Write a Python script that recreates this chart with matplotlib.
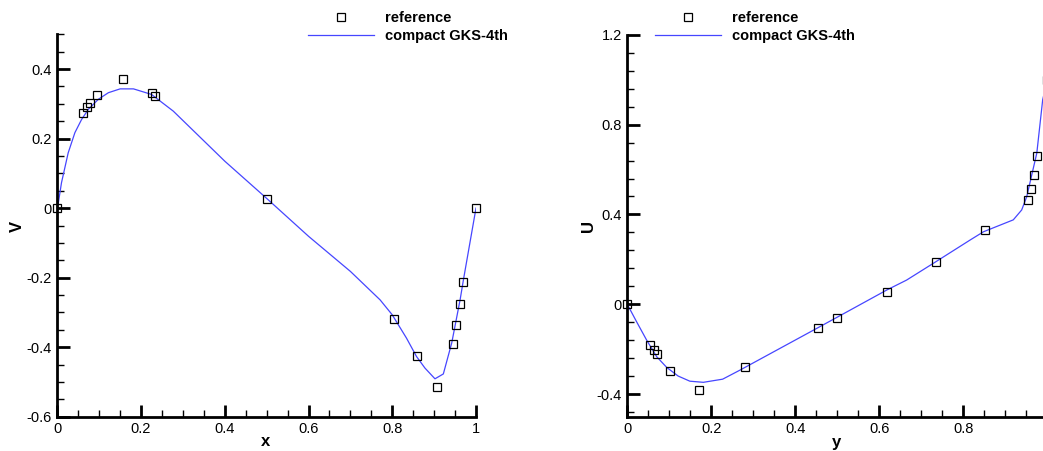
import matplotlib
matplotlib.use('Agg')
import matplotlib.pyplot as plt
from matplotlib.ticker import MultipleLocator, FuncFormatter
from matplotlib.lines import Line2D

plt.rcParams['font.family'] = ['Liberation Sans', 'DejaVu Sans']
plt.rcParams['axes.unicode_minus'] = False

# reference data, v along horizontal centre line
ref_x = [0.0, 0.0625, 0.0703, 0.0781, 0.0938, 0.1563, 0.2266, 0.2344, 0.5,
         0.8047, 0.8594, 0.9063, 0.9453, 0.9531, 0.9609, 0.9688, 1.0]
ref_v = [0.0, 0.2749, 0.2901, 0.3035, 0.3263, 0.3710, 0.3308, 0.3224, 0.0253,
         -0.3197, -0.4267, -0.5155, -0.3919, -0.3371, -0.2767, -0.2139, 0.0]

# compact GKS-4th, v
gks_x = [0.0, 0.0025, 0.010, 0.026, 0.042, 0.058, 0.074, 0.098, 0.122, 0.150,
         0.182, 0.225, 0.277, 0.4, 0.5, 0.6, 0.7, 0.771, 0.80, 0.834, 0.858,
         0.878, 0.902, 0.922, 0.942, 0.962, 0.970, 1.0]
gks_v = [0.0, 0.015, 0.073, 0.159, 0.217, 0.255, 0.284, 0.313, 0.332, 0.343,
         0.343, 0.327, 0.279, 0.135, 0.028, -0.081, -0.182, -0.264, -0.307,
         -0.374, -0.427, -0.460, -0.491, -0.477, -0.388, -0.264, -0.206, 0.0]

# reference data, u along vertical centre line
ref_y = [0.0, 0.0547, 0.0625, 0.0703, 0.1016, 0.1719, 0.2813, 0.4531, 0.5,
         0.6172, 0.7344, 0.8516, 0.9531, 0.9609, 0.9688, 0.9766, 1.0]
ref_u = [0.0, -0.1811, -0.2020, -0.2222, -0.2973, -0.3829, -0.2781, -0.1065,
         -0.0608, 0.0570, 0.1872, 0.3330, 0.4660, 0.5112, 0.5749, 0.6593, 1.0]

# compact GKS-4th, u
gks_y = [0.0, 0.022, 0.046, 0.070, 0.094, 0.121, 0.149, 0.181, 0.227, 0.268,
         0.451, 0.499, 0.618, 0.665, 0.729, 0.816, 0.848, 0.919, 0.939, 0.951,
         0.975, 0.989, 1.0]
gks_u = [0.0, -0.077, -0.159, -0.233, -0.281, -0.319, -0.342, -0.347, -0.333,
         -0.293, -0.107, -0.058, 0.064, 0.108, 0.183, 0.286, 0.323, 0.376,
         0.420, 0.479, 0.673, 0.910, 1.0]

line_color = '#4646ff'
W, H = 1043, 451
fig = plt.figure(figsize=(10.43, 4.51), dpi=100)

def style(ax, ymaj, ymin, xmax_label=1.0):
    for s in ['top', 'right']:
        ax.spines[s].set_visible(False)
    for s in ['left', 'bottom']:
        ax.spines[s].set_linewidth(2.0)
    ax.xaxis.set_major_locator(MultipleLocator(0.2))
    ax.xaxis.set_minor_locator(MultipleLocator(0.05))
    ax.yaxis.set_major_locator(MultipleLocator(ymaj))
    ax.yaxis.set_minor_locator(MultipleLocator(ymin))
    fmt = FuncFormatter(lambda v, p: '%g' % round(v, 3))
    xfmt = FuncFormatter(lambda v, p: '%g' % round(v, 3) if v <= xmax_label + 1e-9 else '')
    ax.xaxis.set_major_formatter(xfmt)
    ax.yaxis.set_major_formatter(fmt)
    ax.tick_params(which='major', direction='in', length=9, width=2,
                   labelsize=10.5, pad=4)
    ax.tick_params(which='minor', direction='in', length=5, width=1)

def legend(ax, x0):
    h = [Line2D([], [], ls='none', marker='s', ms=6, mfc='white', mec='black', mew=0.9),
         Line2D([], [], color=line_color, lw=0.9)]
    ax.legend(h, ['reference', 'compact GKS-4th'], loc='upper left',
              bbox_to_anchor=(x0 / W, 1 - 11 / H), bbox_transform=fig.transFigure,
              frameon=False, borderpad=0, borderaxespad=0, handlelength=4.5,
              handletextpad=0.8, labelspacing=0.28, numpoints=1,
              prop={'weight': 'bold', 'size': 10.5})

lab = dict(fontsize=12, fontweight='bold', ha='center', va='center')

ax1 = fig.add_axes([57.3 / W, (H - 416.7) / H, 418.7 / W, 382.4 / H])
ax1.plot(gks_x, gks_v, color=line_color, lw=0.9)
ax1.plot(ref_x, ref_v, ls='none', marker='s', ms=6, mfc='none', mec='black',
         mew=0.9, clip_on=False)
ax1.set_xlim(0, 1)
ax1.set_ylim(-0.6, 0.5)
style(ax1, 0.2, 0.05)
fig.text(266 / W, 1 - 442 / H, 'x', **lab)
fig.text(17 / W, 1 - 226 / H, 'V', rotation=90, **lab)
legend(ax1, 308)

ax2 = fig.add_axes([627.3 / W, (H - 416.7) / H, 420 / W, 382 / H])
ax2.plot(gks_y, gks_u, color=line_color, lw=0.9)
ax2.plot(ref_y, ref_u, ls='none', marker='s', ms=6, mfc='none', mec='black',
         mew=0.9, clip_on=False)
ax2.set_xlim(0, 1)
ax2.set_ylim(-0.5, 1.2)
style(ax2, 0.4, 0.08, xmax_label=0.8)
fig.text(836 / W, 1 - 442 / H, 'y', **lab)
fig.text(589 / W, 1 - 226 / H, 'U', rotation=90, **lab)
legend(ax2, 655)

fig.savefig('out.png', dpi=100)
